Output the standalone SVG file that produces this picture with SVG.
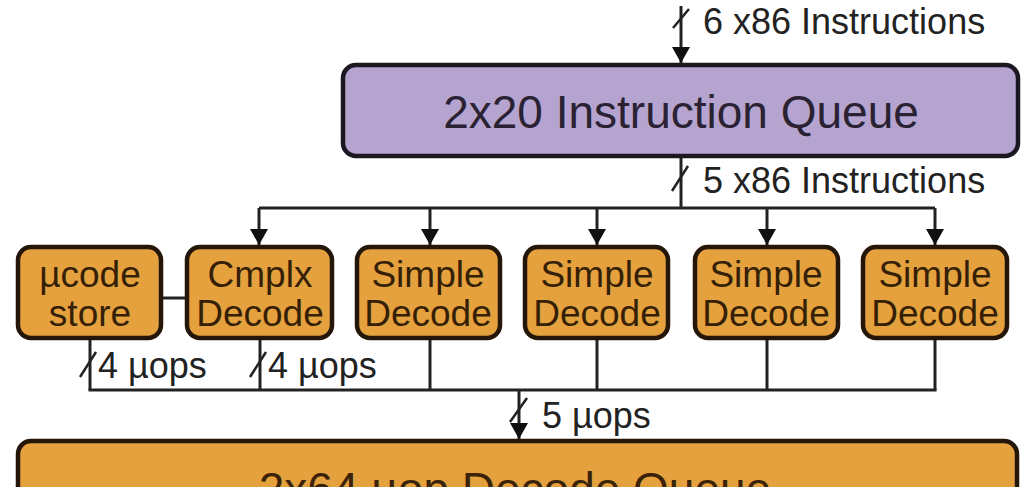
<svg xmlns="http://www.w3.org/2000/svg" width="1022" height="487" viewBox="0 0 1022 487">
  <defs>
    <marker id="arrow" viewBox="0 0 16 18" refX="16" refY="9" markerWidth="16" markerHeight="18" markerUnits="userSpaceOnUse" orient="auto">
      <path d="M0,0 L16,9 L0,18 Z" fill="#111"/>
    </marker>
    <style>
      .queue-purple { fill: #b4a4cf; stroke: #1c1822; stroke-width: 4.5; }
      .queue-orange { fill: #e4a13d; stroke: #24170a; stroke-width: 4.5; }
      .unit { fill: #e4a13d; stroke: #24170a; stroke-width: 4.5; }
      .big { font-family: "Liberation Sans", Arial, sans-serif; font-size: 46px; text-anchor: middle; }
      .unit-text { font-family: "Liberation Sans", Arial, sans-serif; font-size: 37px; text-anchor: middle; fill: #351f07; }
      .label { font-family: "Liberation Sans", Arial, sans-serif; font-size: 36px; fill: #222; }
      .wire { fill: none; stroke: #222; stroke-width: 3; }
      .slash { fill: none; stroke: #222; stroke-width: 2.5; }
    </style>
  </defs>

  <rect width="1022" height="487" fill="#ffffff"/>

  <!-- Connectors -->
  <g id="connectors">
    <!-- incoming x86 instructions -->
    <line class="wire" x1="681" y1="6" x2="681" y2="63" marker-end="url(#arrow)"/>
    <line class="slash" x1="673" y1="28" x2="689" y2="9"/>

    <!-- instruction queue to decoders -->
    <line class="wire" x1="681" y1="156" x2="681" y2="208"/>
    <line class="slash" x1="672" y1="191" x2="688" y2="166"/>
    <line class="wire" x1="259" y1="208" x2="935" y2="208"/>
    <line class="wire" x1="259" y1="208" x2="259" y2="245" marker-end="url(#arrow)"/>
    <line class="wire" x1="430" y1="208" x2="430" y2="245" marker-end="url(#arrow)"/>
    <line class="wire" x1="597" y1="208" x2="597" y2="245" marker-end="url(#arrow)"/>
    <line class="wire" x1="767" y1="208" x2="767" y2="245" marker-end="url(#arrow)"/>
    <line class="wire" x1="935" y1="208" x2="935" y2="245" marker-end="url(#arrow)"/>

    <!-- ucode store to complex decoder -->
    <line class="wire" x1="161" y1="298" x2="187" y2="298"/>

    <!-- decoder outputs -->
    <line class="wire" x1="90" y1="338" x2="90" y2="390"/>
    <line class="slash" x1="80" y1="377" x2="96" y2="352"/>
    <line class="wire" x1="260" y1="338" x2="260" y2="390"/>
    <line class="slash" x1="250" y1="377" x2="266" y2="352"/>
    <line class="wire" x1="430" y1="338" x2="430" y2="390"/>
    <line class="wire" x1="597" y1="338" x2="597" y2="390"/>
    <line class="wire" x1="767" y1="338" x2="767" y2="390"/>
    <line class="wire" x1="935" y1="338" x2="935" y2="390"/>
    <line class="wire" x1="88.5" y1="390" x2="936.5" y2="390"/>

    <!-- to decode queue -->
    <line class="wire" x1="519" y1="390" x2="519" y2="439" marker-end="url(#arrow)"/>
    <line class="slash" x1="510" y1="422" x2="527" y2="398"/>

    <text class="label" x="703" y="34">6 x86 Instructions</text>
    <text class="label" x="703" y="193">5 x86 Instructions</text>
    <text class="label" x="98" y="378">4 µops</text>
    <text class="label" x="268" y="378">4 µops</text>
    <text class="label" x="542" y="428">5 µops</text>
  </g>

  <g id="instruction-queue">
    <rect class="queue-purple" x="343" y="65" width="675" height="91" rx="13"/>
    <text class="big" x="681" y="128" fill="#2a2233">2x20 Instruction Queue</text>
  </g>

  <g id="ucode-store">
    <rect class="unit" x="18" y="247" width="143" height="91" rx="13"/>
    <text class="unit-text" x="90" y="287">µcode</text>
    <text class="unit-text" x="90" y="326">store</text>
  </g>

  <g id="complex-decode">
    <rect class="unit" x="187" y="247" width="145" height="91" rx="13"/>
    <text class="unit-text" x="260" y="287">Cmplx</text>
    <text class="unit-text" x="260" y="326">Decode</text>
  </g>

  <g id="simple-decode-1">
    <rect class="unit" x="357" y="247" width="143" height="91" rx="13"/>
    <text class="unit-text" x="428" y="287">Simple</text>
    <text class="unit-text" x="428" y="326">Decode</text>
  </g>

  <g id="simple-decode-2">
    <rect class="unit" x="525" y="247" width="143" height="91" rx="13"/>
    <text class="unit-text" x="597" y="287">Simple</text>
    <text class="unit-text" x="597" y="326">Decode</text>
  </g>

  <g id="simple-decode-3">
    <rect class="unit" x="695" y="247" width="143" height="91" rx="13"/>
    <text class="unit-text" x="766" y="287">Simple</text>
    <text class="unit-text" x="766" y="326">Decode</text>
  </g>

  <g id="simple-decode-4">
    <rect class="unit" x="863" y="247" width="144" height="91" rx="13"/>
    <text class="unit-text" x="935" y="287">Simple</text>
    <text class="unit-text" x="935" y="326">Decode</text>
  </g>

  <!-- decode queue runs past the bottom edge of the canvas -->
  <g id="decode-queue">
    <rect class="queue-orange" x="18" y="441" width="999" height="91" rx="13"/>
    <text class="big" x="515" y="505" fill="#3b2309">2x64 µop Decode Queue</text>
  </g>
</svg>
